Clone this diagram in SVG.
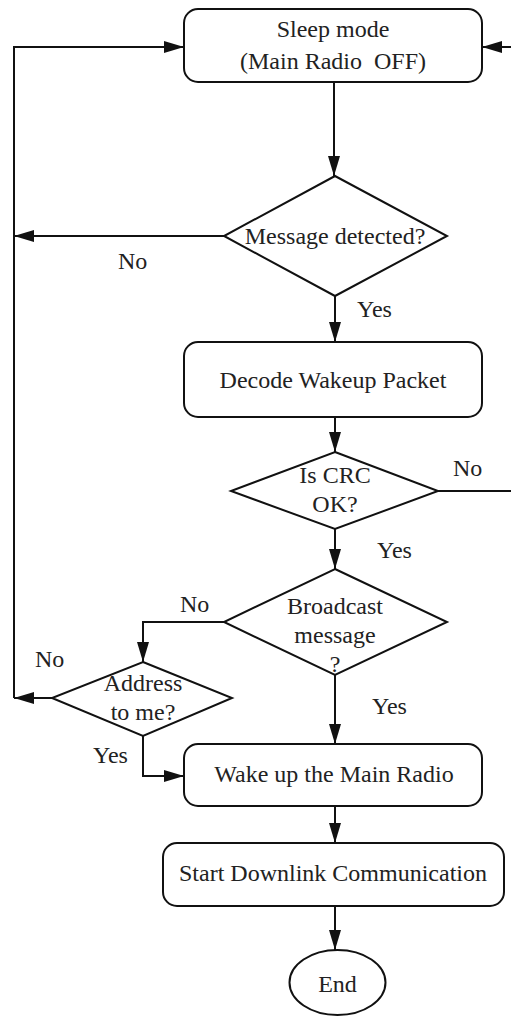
<svg xmlns="http://www.w3.org/2000/svg" width="511" height="1017" viewBox="0 0 511 1017">
  <style>
    .box { fill: #fff; stroke: #111; stroke-width: 2; }
    .wire { fill: none; stroke: #111; stroke-width: 2; marker-end: url(#arr); }
    .line { fill: none; stroke: #111; stroke-width: 2; }
    text { font-family: "Liberation Serif", "Times New Roman", serif; font-size: 24px; fill: #222; }
    .c { text-anchor: middle; }
  </style>
  <defs>
    <marker id="arr" markerUnits="userSpaceOnUse" markerWidth="20" markerHeight="12" refX="20" refY="6" orient="auto">
      <path d="M0,0 L20,6 L0,12 z" fill="#111"/>
    </marker>
  </defs>
  <rect width="511" height="1017" fill="#fff"/>

  <!-- connectors -->
  <g id="connectors">
    <path class="wire" d="M334,82 V176"/>
    <path class="wire" d="M224,236 H14"/>
    <path class="wire" d="M14,698 V47 H184"/>
    <path class="wire" d="M335,296 V342"/>
    <path class="wire" d="M335,417 V452"/>
    <path class="wire" d="M438,491 H514 V47 H482"/>
    <path class="wire" d="M335,529 V569"/>
    <path class="wire" d="M224,622 H143 V662"/>
    <path class="wire" d="M52,698 H14"/>
    <path class="wire" d="M143,736 V776 H184"/>
    <path class="wire" d="M335,675 V744"/>
    <path class="wire" d="M335,806 V843"/>
    <path class="wire" d="M335,906 V950"/>
    <text x="118" y="269">No</text>
    <text x="357" y="317">Yes</text>
    <text x="453" y="476">No</text>
    <text x="377" y="558">Yes</text>
    <text x="180" y="612">No</text>
    <text x="35" y="667">No</text>
    <text x="372" y="714">Yes</text>
    <text x="93" y="763">Yes</text>
  </g>

  <g id="sleep">
    <rect class="box" x="184" y="9" width="298" height="73" rx="14"/>
    <text class="c" x="333" y="37">Sleep mode</text>
    <text class="c" x="333" y="69" xml:space="preserve">(Main Radio  OFF)</text>
  </g>

  <g id="detected">
    <polygon class="box" points="335,176 447,236 335,296 224,236"/>
    <text class="c" x="335" y="244">Message detected?</text>
  </g>

  <g id="decode">
    <rect class="box" x="184" y="342" width="298" height="75" rx="14"/>
    <text class="c" x="333" y="388">Decode Wakeup Packet</text>
  </g>

  <g id="crc">
    <polygon class="box" points="335,452 438,491 335,529 231,491"/>
    <text class="c" x="335" y="483">Is CRC</text>
    <text class="c" x="335" y="512">OK?</text>
  </g>

  <g id="broadcast">
    <polygon class="box" points="335,569 447,622 335,675 224,622"/>
    <text class="c" x="335" y="614">Broadcast</text>
    <text class="c" x="335" y="643">message</text>
    <text class="c" x="335" y="672">?</text>
  </g>

  <g id="address">
    <polygon class="box" points="143,662 232,698 143,736 52,698"/>
    <text class="c" x="143" y="691">Address</text>
    <text class="c" x="143" y="720">to me?</text>
  </g>

  <g id="wake">
    <rect class="box" x="184" y="744" width="298" height="62" rx="14"/>
    <text class="c" x="334" y="782">Wake up the Main Radio</text>
  </g>

  <g id="downlink">
    <rect class="box" x="163" y="843" width="341" height="63" rx="14"/>
    <text class="c" x="333" y="881">Start Downlink Communication</text>
  </g>

  <g id="end">
    <ellipse class="box" cx="337.5" cy="982.5" rx="48" ry="32.5"/>
    <text class="c" x="337.5" y="992">End</text>
  </g>
</svg>
